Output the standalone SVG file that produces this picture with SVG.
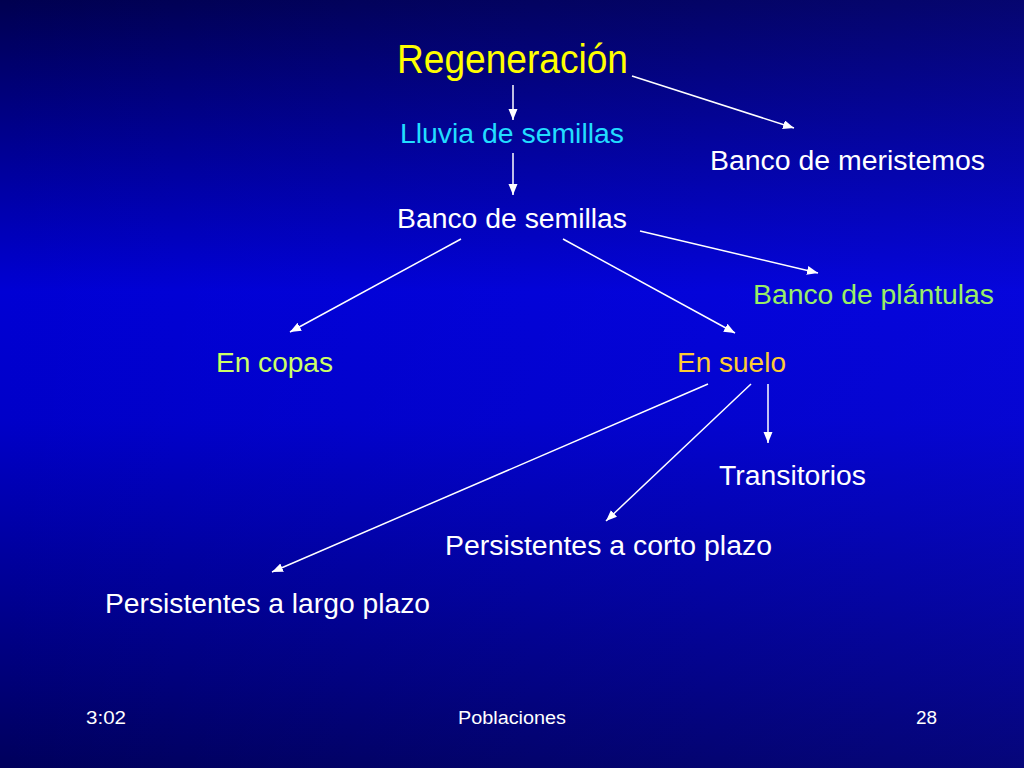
<svg xmlns="http://www.w3.org/2000/svg" width="1024" height="768" viewBox="0 0 1024 768">
<defs>
<linearGradient id="bg" x1="0" y1="0" x2="0" y2="1">
<stop offset="0" stop-color="#000050"/>
<stop offset="0.38" stop-color="#0000d4"/>
<stop offset="0.55" stop-color="#0000c8"/>
<stop offset="1" stop-color="#00005c"/>
</linearGradient>
<linearGradient id="hl" x1="0" y1="0" x2="1" y2="0">
<stop offset="0" stop-color="#2020ff" stop-opacity="0"/>
<stop offset="1" stop-color="#2020ff" stop-opacity="0.18"/>
</linearGradient>
<marker id="ah" markerUnits="userSpaceOnUse" markerWidth="12" markerHeight="10" refX="11" refY="4.5" orient="auto">
<path d="M0,0 L11,4.5 L0,9 Z" fill="#ffffff"/>
</marker>
<style>
.t{font-family:"Liberation Sans",Arial,sans-serif;font-size:27px;fill:#ffffff}
.f{font-family:"Liberation Sans",Arial,sans-serif;font-size:18px;fill:#ffffff}
.c{stroke:#ffffff;stroke-width:1.5;fill:none;marker-end:url(#ah)}
</style>
</defs>
<rect width="1024" height="768" fill="url(#bg)"/>
<rect width="1024" height="768" fill="url(#hl)"/>
<g id="connectors">
<line class="c" x1="513" y1="85" x2="513" y2="120"/>
<line class="c" x1="632" y1="76" x2="794" y2="128"/>
<line class="c" x1="513" y1="153" x2="513" y2="195"/>
<line class="c" x1="640" y1="231" x2="818" y2="273"/>
<line class="c" x1="461" y1="239" x2="290" y2="332"/>
<line class="c" x1="563" y1="239" x2="735" y2="333"/>
<line class="c" x1="708" y1="384" x2="272" y2="572"/>
<line class="c" x1="751" y1="384" x2="606" y2="521"/>
<line class="c" x1="768" y1="384" x2="768" y2="443"/>
</g>
<g id="n-regeneracion"><text x="397" y="73" textLength="231" lengthAdjust="spacingAndGlyphs" style="font-family:'Liberation Sans',Arial,sans-serif;font-size:41px;fill:#ffff00">Regeneración</text></g>
<g id="n-lluvia"><text class="t" x="400" y="143" textLength="224" lengthAdjust="spacingAndGlyphs" style="fill:#22ddff">Lluvia de semillas</text></g>
<g id="n-meristemos"><text class="t" x="710" y="170" textLength="275" lengthAdjust="spacingAndGlyphs">Banco de meristemos</text></g>
<g id="n-semillas"><text class="t" x="397" y="228" textLength="230" lengthAdjust="spacingAndGlyphs">Banco de semillas</text></g>
<g id="n-plantulas"><text class="t" x="753" y="304" textLength="241" lengthAdjust="spacingAndGlyphs" style="fill:#99ee66">Banco de plántulas</text></g>
<g id="n-copas"><text class="t" x="216" y="372" textLength="117" lengthAdjust="spacingAndGlyphs" style="fill:#ccff66">En copas</text></g>
<g id="n-suelo"><text class="t" x="677" y="372" textLength="109" lengthAdjust="spacingAndGlyphs" style="fill:#ffcc33">En suelo</text></g>
<g id="n-transitorios"><text class="t" x="719" y="485" textLength="147" lengthAdjust="spacingAndGlyphs">Transitorios</text></g>
<g id="n-corto"><text class="t" x="445" y="555" textLength="327" lengthAdjust="spacingAndGlyphs">Persistentes a corto plazo</text></g>
<g id="n-largo"><text class="t" x="105" y="613" textLength="325" lengthAdjust="spacingAndGlyphs">Persistentes a largo plazo</text></g>
<g id="footer">
<text class="f" x="86" y="724" textLength="40" lengthAdjust="spacingAndGlyphs">3:02</text>
<text class="f" x="458" y="724" textLength="108" lengthAdjust="spacingAndGlyphs">Poblaciones</text>
<text class="f" x="916" y="724" textLength="21" lengthAdjust="spacingAndGlyphs">28</text>
</g>
</svg>
